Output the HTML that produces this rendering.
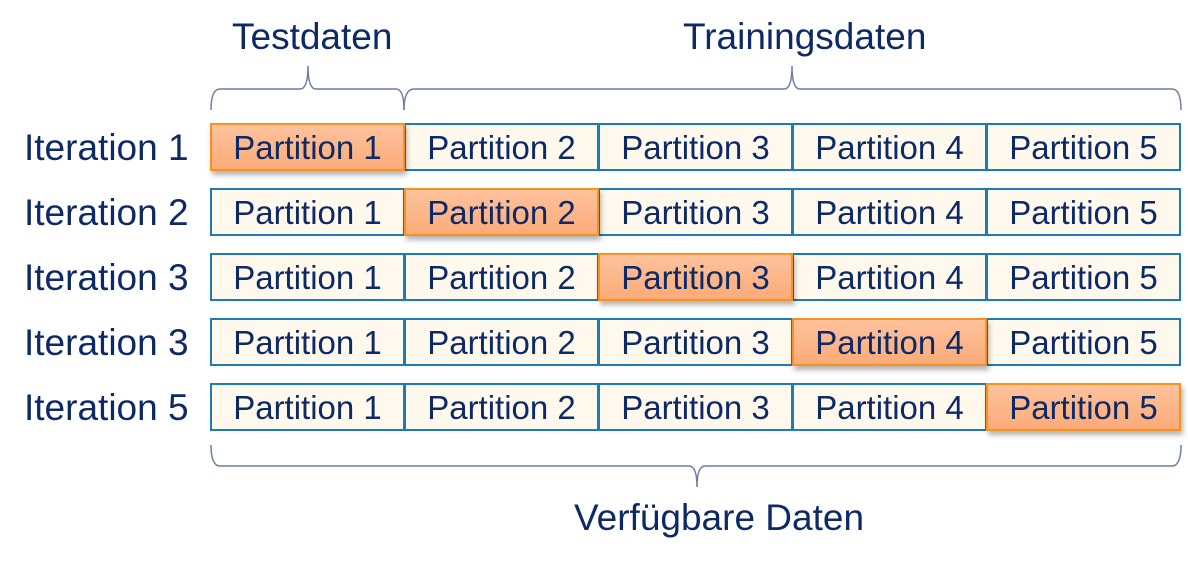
<!DOCTYPE html>
<html><head><meta charset="utf-8"><style>
body{margin:0;width:1188px;height:562px;background:#fff;position:relative;overflow:hidden;font-family:"Liberation Sans",Arial,sans-serif;color:#0d2a66}
.t{position:absolute;font-size:37px;white-space:nowrap;line-height:42px}
.c{position:absolute;box-sizing:border-box;height:48px;width:195px;background:#fef9ec;border:2px solid #1a7db4;font-size:33px;text-align:center;line-height:46px}
.o{background:linear-gradient(#fdc29d,#fcab78);border:2px solid #f7921e;box-shadow:2px 4px 5px rgba(0,0,0,.3);z-index:2}
</style></head><body>
<div class="t" style="left:232px;top:16px">Testdaten</div>
<div class="t" style="left:683px;top:16px">Trainingsdaten</div>
<div class="t" style="left:574px;top:497px">Verfügbare Daten</div>
<svg width="1188" height="562" style="position:absolute;left:0;top:0" fill="none" stroke="#6c7fa0" stroke-width="1.5">
<path d="M211 110 Q211 89 220 89 L300 89 Q308 89 308 66 Q308 89 316 89 L396 89 Q404 89 404 110"/>
<path d="M404 110 Q404 89 414 89 L784 89 Q792 89 792 66 Q792 89 800 89 L1172 89 Q1181 89 1181 110"/>
<path d="M211 445 Q211 466 220 466 L689 466 Q697 466 697 487 Q697 466 705 466 L1172 466 Q1181 466 1181 445"/>
</svg>
<div id="g"></div>
<script>
var labels=["Iteration 1","Iteration 2","Iteration 3","Iteration 3","Iteration 5"],h="";
for(var r=0;r<5;r++){var y=123+r*65;
h+='<div class="t" style="left:24px;top:'+(y+4)+'px">'+labels[r]+'</div>';
for(var c=0;c<5;c++){h+='<div class="c'+(c==r?' o':'')+'" style="left:'+(210+c*194)+'px;top:'+y+'px">Partition '+(c+1)+'</div>';}}
document.getElementById('g').innerHTML=h;
</script>
</body></html>
